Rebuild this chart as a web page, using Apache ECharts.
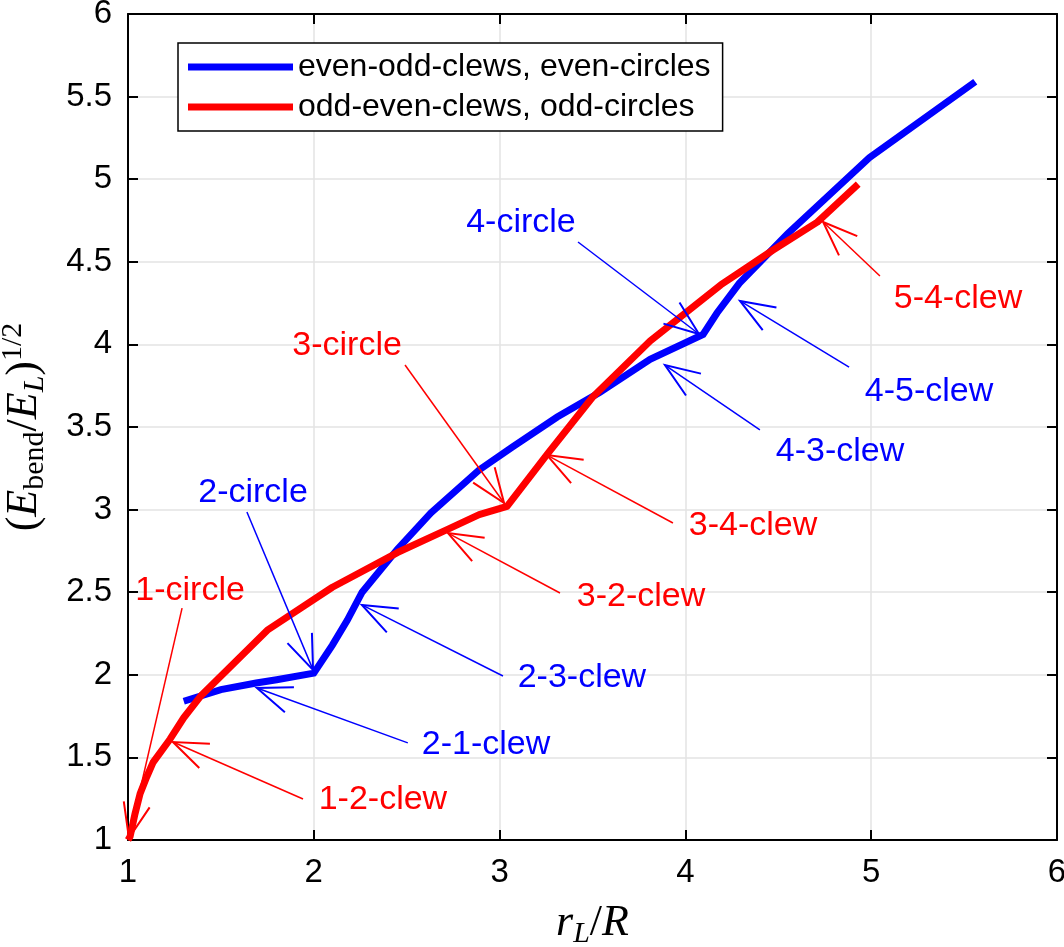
<!DOCTYPE html>
<html>
<head>
<meta charset="utf-8">
<script src="https://cdn.jsdelivr.net/npm/echarts@6/dist/echarts.min.js"></script>
<style>
html,body{margin:0;padding:0;background:#fff;}
#chart{width:1064px;height:947px;}
</style>
</head>
<body>
<div id="chart"></div>
<script>
// ---- data ----
const seriesNames = ['even-odd-clews, even-circles', 'odd-even-clews, odd-circles'];

const blueX = [1.30, 1.50, 1.69, 1.80, 2.00, 2.10, 2.18, 2.26, 2.45, 2.63, 2.89, 3.07, 3.31, 3.54, 3.81, 4.095, 4.17, 4.29, 4.55, 4.99, 5.56];
const blueY = [1.84, 1.91, 1.95, 1.97, 2.01, 2.18, 2.33, 2.50, 2.76, 2.98, 3.24, 3.38, 3.56, 3.71, 3.91, 4.06, 4.19, 4.37, 4.67, 5.13, 5.59];

const redX = [1.00, 1.011, 1.038, 1.065, 1.10, 1.135, 1.226, 1.30, 1.39, 1.75, 2.10, 2.45, 2.72, 2.89, 3.04, 3.26, 3.50, 3.81, 4.19, 4.47, 4.71, 4.93];
const redY = [1.00, 1.02, 1.16, 1.28, 1.38, 1.47, 1.61, 1.74, 1.87, 2.27, 2.53, 2.74, 2.88, 2.97, 3.02, 3.34, 3.68, 4.02, 4.36, 4.57, 4.74, 4.97];

// annotations: label text, label position, arrow tail and arrow head (data units)
const annLabels = ['1-circle', '1-2-clew', '2-circle', '2-1-clew', '2-3-clew', '3-circle', '3-2-clew', '3-4-clew', '4-3-clew', '4-5-clew', '4-circle', '5-4-clew'];
const annColors = ['red', 'red', 'blue', 'blue', 'blue', 'red', 'red', 'red', 'blue', 'blue', 'blue', 'red'];
const annTextX = [1.334, 2.372, 1.673, 2.927, 3.443, 2.179, 3.761, 4.364, 4.832, 5.311, 3.115, 5.467];
const annTextY = [2.507, 1.242, 3.100, 1.575, 1.980, 3.990, 2.471, 2.900, 3.350, 3.715, 4.740, 4.280];
const annTailX = [1.291, 1.942, 1.640, 2.506, 3.018, 2.491, 3.325, 3.933, 4.401, 4.881, 3.422, 5.047];
const annTailY = [2.404, 1.248, 2.985, 1.588, 1.993, 3.875, 2.495, 2.919, 3.482, 3.863, 4.620, 4.414];
const annHeadX = [1.005, 1.242, 1.996, 1.694, 2.259, 3.024, 2.722, 3.255, 3.890, 4.294, 4.073, 4.741];
const annHeadY = [1.012, 1.593, 2.030, 1.920, 2.423, 3.040, 2.858, 3.330, 3.875, 4.263, 4.063, 4.741];

const xTicks = {min: 1, max: 6, interval: 1};
const yTicks = {min: 1, max: 6, interval: 0.5};

// ---- chart ----
const colorMap = {blue: '#0000ff', red: '#ff0000'};
const zip = (xs, ys) => xs.map((x, i) => [x, ys[i]]);
const annData = annLabels.map((l, i) => [annTailX[i], annTailY[i], annHeadX[i], annHeadY[i], annTextX[i], annTextY[i]]);

const sans = '"Liberation Sans", Arial, Helvetica, sans-serif';
const serif = '"Liberation Serif", "DejaVu Serif", serif';

const chart = echarts.init(document.getElementById('chart'), null, {renderer: 'canvas'});

const axisCommon = {
  type: 'value',
  axisLine: {show: true, onZero: false, lineStyle: {color: '#000', width: 2}},
  axisTick: {show: true, inside: true, length: 10, lineStyle: {color: '#000', width: 2}}
};

const mathRich = {
  i: {fontFamily: serif, fontStyle: 'italic', fontSize: 44, color: '#000', lineHeight: 52},
  n: {fontFamily: serif, fontSize: 44, color: '#000', lineHeight: 52},
  s: {fontFamily: serif, fontSize: 30, color: '#000', lineHeight: 26, verticalAlign: 'bottom'},
  si: {fontFamily: serif, fontStyle: 'italic', fontSize: 30, color: '#000', lineHeight: 26, verticalAlign: 'bottom'},
  sup: {fontFamily: serif, fontSize: 30, color: '#000', lineHeight: 26, verticalAlign: 'top'}
};

chart.setOption({
  animation: false,
  backgroundColor: '#fff',
  grid: {left: 128, right: 7, top: 14, bottom: 107, containLabel: false, outerBoundsMode: 'none'},
  legend: {
    data: seriesNames,
    orient: 'vertical',
    left: 178,
    top: 43,
    padding: [8, 12, 8, 10],
    itemGap: 8,
    itemWidth: 105,
    itemHeight: 7,
    icon: 'rect',
    borderColor: '#000',
    borderWidth: 1.5,
    backgroundColor: '#fff',
    textStyle: {fontSize: 32, fontFamily: sans, color: '#000'}
  },
  xAxis: [
    Object.assign({}, axisCommon, {
      position: 'bottom', min: xTicks.min, max: xTicks.max, interval: xTicks.interval,
      axisLabel: {fontSize: 33, fontFamily: sans, color: '#000', margin: 16},
      splitLine: {show: true, lineStyle: {color: '#e3e3e3', width: 1.5}},
      name: '{i|r}{si|L}{n|/}{i|R}',
      nameLocation: 'middle', nameGap: 57,
      nameTextStyle: {rich: mathRich}
    }),
    Object.assign({}, axisCommon, {
      position: 'top', min: xTicks.min, max: xTicks.max, interval: xTicks.interval,
      axisLabel: {show: false}, splitLine: {show: false}
    })
  ],
  yAxis: [
    Object.assign({}, axisCommon, {
      position: 'left', min: yTicks.min, max: yTicks.max, interval: yTicks.interval,
      axisLabel: {fontSize: 33, fontFamily: sans, color: '#000', margin: 16},
      splitLine: {show: true, lineStyle: {color: '#e3e3e3', width: 1.5}},
      name: '{n|(}{i|E}{s|bend}{n|/}{i|E}{si|L}{n|)}{sup|1/2}',
      nameLocation: 'middle', nameGap: 78, nameRotate: 90,
      nameTextStyle: {rich: mathRich}
    }),
    Object.assign({}, axisCommon, {
      position: 'right', min: yTicks.min, max: yTicks.max, interval: yTicks.interval,
      axisLabel: {show: false}, splitLine: {show: false}
    })
  ],
  series: [
    {
      name: seriesNames[0], type: 'line', data: zip(blueX, blueY),
      symbol: 'none', color: '#0000ff', z: 3,
      lineStyle: {width: 7, color: '#0000ff', cap: 'butt', join: 'miter'}
    },
    {
      name: seriesNames[1], type: 'line', data: zip(redX, redY),
      symbol: 'none', color: '#ff0000', z: 4,
      lineStyle: {width: 7, color: '#ff0000', cap: 'butt', join: 'round'}
    },
    {
      name: 'annotations', type: 'custom', coordinateSystem: 'cartesian2d',
      data: annData, z: 5, clip: false, silent: true,
      renderItem: function (params, api) {
        const i = params.dataIndex;
        const col = colorMap[annColors[i]];
        const t = api.coord([api.value(0), api.value(1)]);
        const h = api.coord([api.value(2), api.value(3)]);
        const p = api.coord([api.value(4), api.value(5)]);
        const ang = Math.atan2(t[1] - h[1], t[0] - h[0]);
        const L = 37, a = 21 * Math.PI / 180;
        const b1 = [h[0] + L * Math.cos(ang + a), h[1] + L * Math.sin(ang + a)];
        const b2 = [h[0] + L * Math.cos(ang - a), h[1] + L * Math.sin(ang - a)];
        return {
          type: 'group',
          children: [
            {type: 'line', shape: {x1: t[0], y1: t[1], x2: h[0], y2: h[1]}, style: {stroke: col, lineWidth: 1.5}},
            {type: 'polyline', shape: {points: [b1, h, b2]}, style: {stroke: col, fill: null, lineWidth: 2}},
            {type: 'text', x: p[0], y: p[1], style: {text: annLabels[i], fill: col, fontSize: 34, fontFamily: sans, align: 'center', verticalAlign: 'middle'}}
          ]
        };
      }
    }
  ]
});
</script>
</body>
</html>
